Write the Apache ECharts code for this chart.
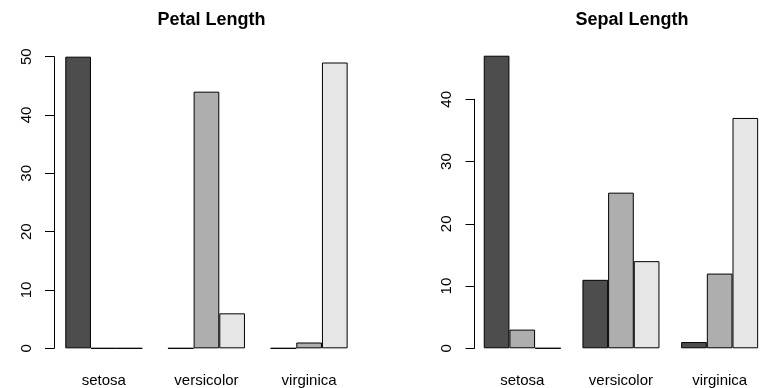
<!DOCTYPE html>
<html>
<head>
<meta charset="utf-8">
<script src="https://cdn.jsdelivr.net/npm/echarts@6/dist/echarts.min.js"></script>
<style>html,body{margin:0;padding:0;background:#fff}#c{width:769px;height:388px}</style>
</head>
<body>
<div id="c"></div>
<script>
var categories = ['setosa', 'versicolor', 'virginica'];
var petalTitle = 'Petal Length';
var sepalTitle = 'Sepal Length';
var petalLow = [50, 0, 0];
var petalMid = [0, 44, 1];
var petalHigh = [0, 6, 49];
var sepalLow = [47, 11, 1];
var sepalMid = [3, 25, 12];
var sepalHigh = [0, 14, 37];
var petalTicks = [0, 10, 20, 30, 40, 50];
var sepalTicks = [0, 10, 20, 30, 40];

var colors = ['#4D4D4D', '#AEAEAE', '#E6E6E6'];
var FONT = 'Liberation Sans, Arial, Helvetica, sans-serif';
var unit = 25.67;

function barSeries(data, color, xi, yi) {
  return {
    type: 'bar', data: data, xAxisIndex: xi, yAxisIndex: yi,
    barWidth: unit, barGap: '0%',
    itemStyle: { color: color, borderColor: '#000', borderWidth: 1 },
    silent: true, animation: false
  };
}

var chart = echarts.init(document.getElementById('c'), null, { renderer: 'canvas' });
chart.setOption({
  animation: false,
  backgroundColor: '#fff',
  title: [
    { text: petalTitle, left: 206.5, top: 6, textAlign: 'center',
      textStyle: { fontFamily: FONT, fontSize: 18, fontWeight: 'bold', color: '#000' } },
    { text: sepalTitle, left: 627, top: 6, textAlign: 'center',
      textStyle: { fontFamily: FONT, fontSize: 18, fontWeight: 'bold', color: '#000' } }
  ],
  grid: [
    { left: 52.46, width: 308.0, top: 45, height: 315, containLabel: false },
    { left: 472.9, width: 308.2, top: 44, height: 316, containLabel: false },
    { left: 54, width: 100, top: 56.7, height: 291.6, containLabel: false },
    { left: 474.5, width: 100, top: 99.3, height: 249, containLabel: false }
  ],
  xAxis: [
    { type: 'category', gridIndex: 0, data: categories,
      axisLine: { show: false }, axisTick: { show: false },
      axisLabel: { fontFamily: FONT, fontSize: 15, color: '#000', margin: 13 } },
    { type: 'category', gridIndex: 1, data: categories,
      axisLine: { show: false }, axisTick: { show: false },
      axisLabel: { fontFamily: FONT, fontSize: 15, color: '#000', margin: 13 } },
    { type: 'value', gridIndex: 2, show: false },
    { type: 'value', gridIndex: 3, show: false }
  ],
  yAxis: [
    { type: 'value', gridIndex: 0, min: -2, max: 52, show: false },
    { type: 'value', gridIndex: 1, min: -1.88, max: 48.88, show: false },
    { type: 'value', gridIndex: 2, min: petalTicks[0], max: petalTicks[petalTicks.length - 1], interval: 10,
      axisLine: { show: true, lineStyle: { color: '#000', width: 1 } },
      axisTick: { show: true, length: 9, lineStyle: { color: '#000', width: 1 } },
      splitLine: { show: false },
      axisLabel: { rotate: 90, fontFamily: FONT, fontSize: 15, color: '#000', margin: 20 } },
    { type: 'value', gridIndex: 3, min: sepalTicks[0], max: sepalTicks[sepalTicks.length - 1], interval: 10,
      axisLine: { show: true, lineStyle: { color: '#000', width: 1 } },
      axisTick: { show: true, length: 9, lineStyle: { color: '#000', width: 1 } },
      splitLine: { show: false },
      axisLabel: { rotate: 90, fontFamily: FONT, fontSize: 15, color: '#000', margin: 20 } }
  ],
  series: [
    barSeries(petalLow, colors[0], 0, 0),
    barSeries(petalMid, colors[1], 0, 0),
    barSeries(petalHigh, colors[2], 0, 0),
    barSeries(sepalLow, colors[0], 1, 1),
    barSeries(sepalMid, colors[1], 1, 1),
    barSeries(sepalHigh, colors[2], 1, 1)
  ]
});
</script>
</body>
</html>
